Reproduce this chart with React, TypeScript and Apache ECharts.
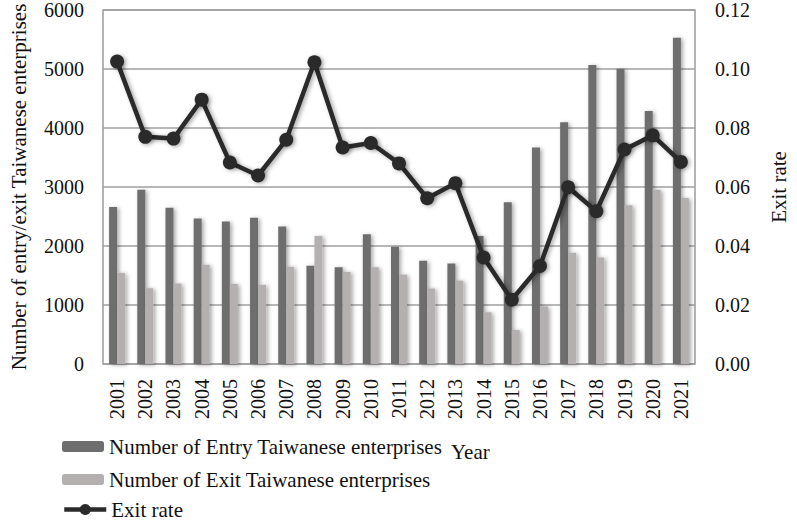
import React, { useEffect, useRef } from "react";
import * as echarts from "echarts";

const years = ["2001","2002","2003","2004","2005","2006","2007","2008","2009","2010","2011","2012","2013","2014","2015","2016","2017","2018","2019","2020","2021"];
const entry = [2660,2955,2650,2466,2416,2477,2332,1666,1638,2198,1988,1750,1705,2169,2740,3668,4099,5067,5005,4289,5530];
const exitN = [1544,1285,1364,1683,1359,1342,1649,2169,1560,1638,1515,1280,1414,877,575,978,1884,1805,2690,2953,2812];
const exitRate = [0.1025,0.077,0.0764,0.0896,0.0683,0.0639,0.076,0.1023,0.0734,0.0749,0.068,0.0562,0.0613,0.0361,0.0218,0.0332,0.0599,0.0518,0.0727,0.0775,0.0685];
const leftTicks = [0, 1000, 6000];
const rightTicks = [0, 0.02, 0.12];
const seriesNames = ["Number of Entry Taiwanese enterprises", "Number of Exit Taiwanese enterprises", "Exit rate"];

const FONT = "Liberation Serif";

export default function App() {
  const ref = useRef<HTMLDivElement>(null);
  useEffect(() => {
    document.body.style.margin = "0";
    const chart = echarts.init(ref.current!, null, { renderer: "svg" });
    const shadow = { shadowBlur: 4, shadowColor: "rgba(0,0,0,0.35)", shadowOffsetX: 2, shadowOffsetY: 1 };
    const legendBase = {
      orient: "vertical",
      left: 57,
      itemWidth: 42,
      itemHeight: 11,
      textStyle: { fontFamily: FONT, fontSize: 21, color: "#111" },
    };
    chart.setOption({
      animation: false,
      textStyle: { fontFamily: FONT, color: "#111" },
      grid: { left: 82, right: 82, top: 8, bottom: 156, show: true, borderColor: "#9a9a9a", borderWidth: 1.5 },
      legend: [
        { ...legendBase, top: 431, data: [seriesNames[0]] },
        { ...legendBase, top: 464, data: [seriesNames[1]] },
        {
          ...legendBase,
          top: 494,
          itemHeight: 14,
          itemGap: 2,
          lineStyle: { width: 4.5, color: "#2b2b2b", shadowBlur: 0 },
          itemStyle: { shadowBlur: 0 },
          data: [seriesNames[2]],
        },
      ],
      graphic: [
        { type: "text", left: 451, top: 441, style: { text: "Year", font: `21px ${FONT}`, fill: "#111" } },
      ],
      xAxis: {
        type: "category",
        data: years,
        axisTick: { show: false },
        axisLine: { show: false },
        axisLabel: { rotate: 90, fontSize: 20, fontFamily: FONT, color: "#111", margin: 15 },
      },
      yAxis: [
        {
          type: "value",
          min: leftTicks[0],
          max: leftTicks[2],
          interval: leftTicks[1],
          name: "Number of entry/exit Taiwanese enterprises",
          nameLocation: "middle",
          nameGap: 74,
          nameTextStyle: { fontFamily: FONT, fontSize: 21, color: "#111" },
          axisLabel: { fontSize: 20, fontFamily: FONT, color: "#111", margin: 19, formatter: (v: number) => String(v) },
          splitLine: { lineStyle: { color: "#a0a0a0", width: 1.5 } },
          axisLine: { show: false },
          axisTick: { show: false },
        },
        {
          type: "value",
          min: rightTicks[0],
          max: rightTicks[2],
          interval: rightTicks[1],
          name: "Exit rate",
          nameLocation: "middle",
          nameGap: 73,
          nameRotate: 90,
          nameTextStyle: { fontFamily: FONT, fontSize: 21, color: "#111" },
          axisLabel: { fontSize: 20, fontFamily: FONT, color: "#111", margin: 20, formatter: (v: number) => v.toFixed(2) },
          splitLine: { show: false },
          axisLine: { show: false },
          axisTick: { show: false },
        },
      ],
      series: [
        {
          name: seriesNames[0],
          type: "bar",
          data: entry,
          barWidth: 8,
          barGap: "0%",
          itemStyle: { color: "#6e6e6e", ...shadow },
        },
        {
          name: seriesNames[1],
          type: "bar",
          data: exitN,
          barWidth: 8,
          itemStyle: { color: "#b4b0b0", ...shadow },
        },
        {
          name: seriesNames[2],
          type: "line",
          yAxisIndex: 1,
          data: exitRate,
          symbol: "circle",
          symbolSize: 14,
          lineStyle: { color: "#2b2b2b", width: 4.5, ...shadow },
          itemStyle: { color: "#2b2b2b", ...shadow },
        },
      ],
    });
    return () => chart.dispose();
  }, []);
  return <div ref={ref} style={{ width: 797, height: 520 }} />;
}
